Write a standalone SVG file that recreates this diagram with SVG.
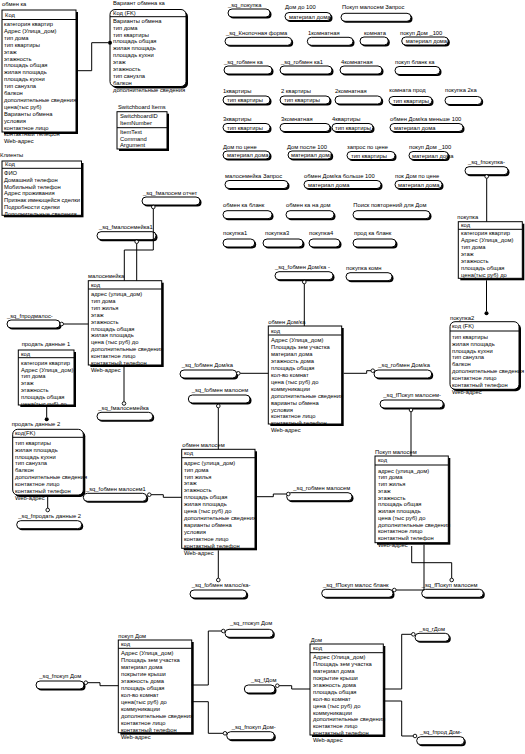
<svg xmlns="http://www.w3.org/2000/svg" width="525" height="754" viewBox="0 0 525 754">
<style>
text{font-family:"Liberation Sans",Arial,sans-serif;font-size:5.8px;fill:#000}
.bx{fill:#fff;stroke:#000;stroke-width:1}
.sh{fill:#000}
.ln{stroke:#000;stroke-width:1;fill:none}
.mk{fill:#fff;stroke:#000;stroke-width:0.9}
.dot{fill:#000}
</style>
<rect width="525" height="754" fill="#fff"/>

<!-- TABLES -->
<g id="t-obmen-ka">
<text x="2" y="6">обмен ка</text>
<rect class="sh" x="4" y="12" width="74" height="122"/>
<rect class="bx" x="2" y="10" width="74" height="122"/>
<text x="5" y="17">Код</text>
<line class="ln" x1="2" y1="19.5" x2="76" y2="19.5"/>
<text x="4" y="26"><tspan x="4">категория квартир</tspan><tspan x="4" dy="6.9">Адрес (Улица_дом)</tspan><tspan x="4" dy="6.9">тип дома</tspan><tspan x="4" dy="6.9">тип квартиры</tspan><tspan x="4" dy="6.9">этаж</tspan><tspan x="4" dy="6.9">этажность</tspan><tspan x="4" dy="6.9">площадь общая</tspan><tspan x="4" dy="6.9">жилая площадь</tspan><tspan x="4" dy="6.9">площадь кухни</tspan><tspan x="4" dy="6.9">тип санузла</tspan><tspan x="4" dy="6.9">балкон</tspan><tspan x="4" dy="6.9">дополнительные сведения</tspan><tspan x="4" dy="6.9">цена(тыс руб)</tspan><tspan x="4" dy="6.9">Варианты обмена</tspan><tspan x="4" dy="6.9">условия</tspan><tspan x="4" dy="6.9">контактное лицо</tspan><tspan x="4" dy="6.9">контактный телефон</tspan><tspan x="4" dy="6.9">Web-адрес</tspan></text>
</g>

<g id="t-variant">
<text x="113" y="5">Вариант обмена ка</text>
<rect class="sh" x="112" y="11.5" width="76" height="77" rx="5"/>
<rect class="bx" x="110" y="9.5" width="76" height="77" rx="5"/>
<text x="113" y="14.7">Код (FK)</text>
<line class="ln" x1="110" y1="16.7" x2="186" y2="16.7"/>
<text x="113" y="22.7"><tspan x="113">Варианты обмена</tspan><tspan x="113" dy="6.9">тип дома</tspan><tspan x="113" dy="6.9">тип квартиры</tspan><tspan x="113" dy="6.9">площадь общая</tspan><tspan x="113" dy="6.9">жилая площадь</tspan><tspan x="113" dy="6.9">площадь кухни</tspan><tspan x="113" dy="6.9">этаж</tspan><tspan x="113" dy="6.9">этажность</tspan><tspan x="113" dy="6.9">тип санузла</tspan><tspan x="113" dy="6.9">балкон</tspan><tspan x="113" dy="6.9">дополнительные сведения</tspan></text>
</g>

<g id="t-switchboard">
<text x="118" y="109.3">Switchboard Items</text>
<rect class="sh" x="119" y="113.7" width="50" height="37.3"/>
<rect class="bx" x="117" y="111.7" width="50" height="37.3"/>
<text x="120" y="118.3">SwitchboardID</text>
<text x="120" y="125.3">ItemNumber</text>
<line class="ln" x1="117" y1="127.7" x2="167" y2="127.7"/>
<text x="120" y="134.3"><tspan x="120">ItemText</tspan><tspan x="120" dy="6.2">Command</tspan><tspan x="120" dy="6.2">Argument</tspan></text>
</g>

<g id="t-klienty">
<text x="0" y="157">Клиенты</text>
<rect class="sh" x="4" y="163" width="79.5" height="54.3"/>
<rect class="bx" x="2" y="161" width="79.5" height="54.3"/>
<text x="5" y="166.3">Код</text>
<line class="ln" x1="2" y1="168.3" x2="81.5" y2="168.3"/>
<text x="4" y="174.7"><tspan x="4">ФИО</tspan><tspan x="4" dy="6.9">Домашний телефон</tspan><tspan x="4" dy="6.9">Мобильный телефон</tspan><tspan x="4" dy="6.9">Адрес проживания</tspan><tspan x="4" dy="6.9">Признак имеющейся сделки</tspan><tspan x="4" dy="6.9">Подробности сделки</tspan><tspan x="4" dy="6.9">Дополнительные сведения</tspan></text>
</g>

<g id="t-malosemeika">
<text x="88" y="278">малосемейка</text>
<rect class="sh" x="90.3" y="282.7" width="73.4" height="84.3"/>
<rect class="bx" x="88.3" y="280.7" width="73.4" height="84.3"/>
<text x="91" y="286.7">код</text>
<line class="ln" x1="88.3" y1="289" x2="161.7" y2="289"/>
<text x="91" y="296.3"><tspan x="91">адрес (улица_дом)</tspan><tspan x="91" dy="6.85">тип дома</tspan><tspan x="91" dy="6.85">тип жилья</tspan><tspan x="91" dy="6.85">этаж</tspan><tspan x="91" dy="6.85">этажность</tspan><tspan x="91" dy="6.85">площадь общая</tspan><tspan x="91" dy="6.85">жилая площадь</tspan><tspan x="91" dy="6.85">цена (тыс руб) до</tspan><tspan x="91" dy="6.85">дополнительные сведения</tspan><tspan x="91" dy="6.85">контактное лицо</tspan><tspan x="91" dy="6.85">контактный телефон</tspan><tspan x="91" dy="6.85">Web-адрес</tspan></text>
</g>

<g id="t-prodat1">
<text x="21.7" y="346">продать данные 1</text>
<rect class="sh" x="20.3" y="352" width="55.7" height="55"/>
<rect class="bx" x="18.3" y="350" width="55.7" height="55"/>
<text x="21" y="356">код</text>
<line class="ln" x1="18.3" y1="357.7" x2="74" y2="357.7"/>
<text x="21" y="364.7"><tspan x="21">категория квартир</tspan><tspan x="21" dy="6.8">Адрес (Улица_дом)</tspan><tspan x="21" dy="6.8">тип дома</tspan><tspan x="21" dy="6.8">этаж</tspan><tspan x="21" dy="6.8">этажность</tspan><tspan x="21" dy="6.8">площадь общая</tspan><tspan x="21" dy="6.8">цена(тыс руб) до</tspan></text>
</g>

<g id="t-prodat2">
<text x="11.7" y="426.3">продать данные 2</text>
<rect class="sh" x="14.7" y="431.3" width="70.6" height="65.7" rx="5"/>
<rect class="bx" x="12.7" y="429.3" width="70.6" height="65.7" rx="5"/>
<text x="15" y="435.3">код(FK)</text>
<line class="ln" x1="12.7" y1="437.3" x2="83.3" y2="437.3"/>
<text x="15" y="444.7"><tspan x="15">тип квартиры</tspan><tspan x="15" dy="6.9">жилая площадь</tspan><tspan x="15" dy="6.9">площадь кухни</tspan><tspan x="15" dy="6.9">тип санузла</tspan><tspan x="15" dy="6.9">балкон</tspan><tspan x="15" dy="6.9">дополнительные сведения</tspan><tspan x="15" dy="6.9">контактное лицо</tspan><tspan x="15" dy="6.9">контактный телефон</tspan><tspan x="15" dy="6.9">Web-адрес</tspan></text>
</g>

<g id="t-obmen-domka">
<text x="268.3" y="323.7">обмен Дом/ка</text>
<rect class="sh" x="270.3" y="328" width="73.4" height="98"/>
<rect class="bx" x="268.3" y="326" width="73.4" height="98"/>
<text x="271" y="332.7">код</text>
<line class="ln" x1="268.3" y1="335" x2="341.7" y2="335"/>
<text x="271" y="342"><tspan x="271">Адрес (Улица_дом)</tspan><tspan x="271" dy="6.95">Площадь зем участка</tspan><tspan x="271" dy="6.95">материал дома</tspan><tspan x="271" dy="6.95">этажность дома</tspan><tspan x="271" dy="6.95">площадь общая</tspan><tspan x="271" dy="6.95">кол-во комнат</tspan><tspan x="271" dy="6.95">цена (тыс руб) до</tspan><tspan x="271" dy="6.95">коммуникации</tspan><tspan x="271" dy="6.95">дополнительные сведения</tspan><tspan x="271" dy="6.95">варианты обмена</tspan><tspan x="271" dy="6.95">условия</tspan><tspan x="271" dy="6.95">контактное лицо</tspan><tspan x="271" dy="6.95">контактный телефон</tspan><tspan x="271" dy="6.95">Web-адрес</tspan></text>
</g>

<g id="t-pokupka">
<text x="457.3" y="218.7">покупка</text>
<rect class="sh" x="460.3" y="223.7" width="64" height="56.6"/>
<rect class="bx" x="458.3" y="221.7" width="64" height="56.6"/>
<text x="461" y="227">код</text>
<line class="ln" x1="458.3" y1="229.3" x2="522.3" y2="229.3"/>
<text x="461" y="235.3"><tspan x="461">категория квартир</tspan><tspan x="461" dy="6.95">Адрес (Улица_дом)</tspan><tspan x="461" dy="6.95">тип дома</tspan><tspan x="461" dy="6.95">этаж</tspan><tspan x="461" dy="6.95">этажность</tspan><tspan x="461" dy="6.95">площадь общая</tspan><tspan x="461" dy="6.95">цена(тыс руб) до</tspan></text>
</g>

<g id="t-pokupka2">
<text x="450" y="319.7">покупка2</text>
<rect class="sh" x="452" y="323.7" width="69" height="67.6" rx="5"/>
<rect class="bx" x="450" y="321.7" width="69" height="67.6" rx="5"/>
<text x="452" y="328">код (FK)</text>
<line class="ln" x1="450" y1="331" x2="519" y2="331"/>
<text x="452" y="338.7"><tspan x="452">тип квартиры</tspan><tspan x="452" dy="6.9">жилая площадь</tspan><tspan x="452" dy="6.9">площадь кухни</tspan><tspan x="452" dy="6.9">тип санузла</tspan><tspan x="452" dy="6.9">балкон</tspan><tspan x="452" dy="6.9">дополнительные сведения</tspan><tspan x="452" dy="6.9">контактное лицо</tspan><tspan x="452" dy="6.9">контактный телефон</tspan><tspan x="452" dy="6.9">Web-адрес</tspan></text>
</g>

<g id="t-pokup-malosem">
<text x="375" y="453.7">Покуп малосем</text>
<rect class="sh" x="377" y="458" width="73.3" height="86.7"/>
<rect class="bx" x="375" y="456" width="73.3" height="86.7"/>
<text x="378" y="462">код</text>
<line class="ln" x1="375" y1="465" x2="448.3" y2="465"/>
<text x="378" y="472.7"><tspan x="378">адрес (улица_дом)</tspan><tspan x="378" dy="6.75">тип дома</tspan><tspan x="378" dy="6.75">тип жилья</tspan><tspan x="378" dy="6.75">этаж</tspan><tspan x="378" dy="6.75">этажность</tspan><tspan x="378" dy="6.75">площадь общая</tspan><tspan x="378" dy="6.75">жилая площадь</tspan><tspan x="378" dy="6.75">цена (тыс руб) до</tspan><tspan x="378" dy="6.75">дополнительные сведения</tspan><tspan x="378" dy="6.75">контактное лицо</tspan><tspan x="378" dy="6.75">контактный телефон</tspan><tspan x="378" dy="6.75">Web-адрес</tspan></text>
</g>

<g id="t-obmen-malosem">
<text x="182.3" y="447">обмен малосем</text>
<rect class="sh" x="183.7" y="451.3" width="73.3" height="99"/>
<rect class="bx" x="181.7" y="449.3" width="73.3" height="99"/>
<text x="184" y="454.7">код</text>
<line class="ln" x1="181.7" y1="457.7" x2="255" y2="457.7"/>
<text x="184" y="464.7"><tspan x="184">адрес (улица_дом)</tspan><tspan x="184" dy="6.92">тип дома</tspan><tspan x="184" dy="6.92">тип жилья</tspan><tspan x="184" dy="6.92">этаж</tspan><tspan x="184" dy="6.92">этажность</tspan><tspan x="184" dy="6.92">площадь общая</tspan><tspan x="184" dy="6.92">жилая площадь</tspan><tspan x="184" dy="6.92">цена (тыс руб) до</tspan><tspan x="184" dy="6.92">дополнительные сведения</tspan><tspan x="184" dy="6.92">варианты обмена</tspan><tspan x="184" dy="6.92">условия</tspan><tspan x="184" dy="6.92">контактное лицо</tspan><tspan x="184" dy="6.92">контактный телефон</tspan><tspan x="184" dy="6.92">Web-адрес</tspan></text>
</g>

<g id="t-pokup-dom">
<text x="118.3" y="638">покуп Дом</text>
<rect class="sh" x="120.3" y="642" width="73.4" height="92.7"/>
<rect class="bx" x="118.3" y="640" width="73.4" height="92.7"/>
<text x="121" y="646">код</text>
<line class="ln" x1="118.3" y1="648.3" x2="191.7" y2="648.3"/>
<text x="121" y="655.3"><tspan x="121">Адрес (Улица_дом)</tspan><tspan x="121" dy="7">Площадь зем участка</tspan><tspan x="121" dy="7">материал дома</tspan><tspan x="121" dy="7">покрытие крыши</tspan><tspan x="121" dy="7">этажность дома</tspan><tspan x="121" dy="7">площадь общая</tspan><tspan x="121" dy="7">кол-во комнат</tspan><tspan x="121" dy="7">цена(тыс руб) до</tspan><tspan x="121" dy="7">коммуникации</tspan><tspan x="121" dy="7">дополнительные сведения</tspan><tspan x="121" dy="7">контактное лицо</tspan><tspan x="121" dy="7">контактный телефон</tspan><tspan x="121" dy="7">Web-адрес</tspan></text>
</g>

<g id="t-dom">
<text x="310.7" y="642">Дом</text>
<rect class="sh" x="312" y="646" width="73.3" height="91"/>
<rect class="bx" x="310" y="644" width="73.3" height="91"/>
<text x="313" y="650.3">код</text>
<line class="ln" x1="310" y1="652.7" x2="383.3" y2="652.7"/>
<text x="313" y="659.3"><tspan x="313">Адрес (Улица_дом)</tspan><tspan x="313" dy="6.9">Площадь зем участка</tspan><tspan x="313" dy="6.9">материал дома</tspan><tspan x="313" dy="6.9">покрытие крыши</tspan><tspan x="313" dy="6.9">этажность дома</tspan><tspan x="313" dy="6.9">площадь общая</tspan><tspan x="313" dy="6.9">кол-во комнат</tspan><tspan x="313" dy="6.9">цена (тыс руб) до</tspan><tspan x="313" dy="6.9">коммуникации</tspan><tspan x="313" dy="6.9">дополнительные сведения</tspan><tspan x="313" dy="6.9">контактное лицо</tspan><tspan x="313" dy="6.9">контактный телефон</tspan><tspan x="313" dy="6.9">Web-адрес</tspan></text>
</g>

<!-- QUERIES -->
<g id="q1"><text x="228" y="6.7">_sq_покупка</text><rect class="sh" x="229.5" y="10.5" width="42" height="8" rx="4"/><rect class="bx" x="228" y="9" width="42" height="8" rx="4"/></g>
<g id="q2"><text x="285" y="8.7">Дом до 100</text><rect class="sh" x="286.5" y="14" width="46" height="8" rx="4"/><rect class="bx" x="285" y="12.5" width="46" height="8" rx="4"/><text x="289" y="18.5">материал дома</text></g>
<g id="q3"><text x="342" y="9.3">Покуп малосем Запрос</text><rect class="sh" x="342.5" y="14.8" width="70" height="8" rx="4"/><rect class="bx" x="341" y="13.3" width="70" height="8" rx="4"/></g>
<g id="q4"><text x="226" y="34.7">_sq_Кнопочная форма</text><rect class="sh" x="226.5" y="38.8" width="66.7" height="8" rx="4"/><rect class="bx" x="225" y="37.3" width="66.7" height="8" rx="4"/></g>
<g id="q5"><text x="308" y="34.7">1комнатная</text><rect class="sh" x="308.8" y="38.8" width="45.7" height="8" rx="4"/><rect class="bx" x="307.3" y="37.3" width="45.7" height="8" rx="4"/></g>
<g id="q6"><text x="364" y="35.3">комната</text><rect class="sh" x="361.5" y="38.5" width="28.3" height="8" rx="4"/><rect class="bx" x="360" y="37" width="28.3" height="8" rx="4"/></g>
<g id="q7"><text x="400" y="35.3">покуп Дом _100</text><rect class="sh" x="403.2" y="38.5" width="46.6" height="8" rx="4"/><rect class="bx" x="401.7" y="37" width="46.6" height="8" rx="4"/><text x="405.7" y="43">материал дома</text></g>
<g id="q8"><text x="224" y="63.7">_sq_rобмен ка</text><rect class="sh" x="225.5" y="67.5" width="48" height="8" rx="4"/><rect class="bx" x="224" y="66" width="48" height="8" rx="4"/></g>
<g id="q9"><text x="281" y="63.7">_sq_rобмен ка1</text><rect class="sh" x="281.5" y="67.5" width="52" height="8" rx="4"/><rect class="bx" x="280" y="66" width="52" height="8" rx="4"/></g>
<g id="q10"><text x="341" y="63.7">4комнатная</text><rect class="sh" x="341.5" y="67.5" width="42" height="8" rx="4"/><rect class="bx" x="340" y="66" width="42" height="8" rx="4"/></g>
<g id="q11"><text x="395" y="63.7">покуп бланк ка</text><rect class="sh" x="396.5" y="68" width="45" height="8" rx="4"/><rect class="bx" x="395" y="66.5" width="45" height="8" rx="4"/></g>
<g id="q12"><text x="223" y="92.7">1квартиры</text><rect class="sh" x="224.5" y="97.5" width="47" height="8" rx="4"/><rect class="bx" x="223" y="96" width="47" height="8" rx="4"/><text x="227" y="102">тип квартиры</text></g>
<g id="q13"><text x="281" y="92.7">2 квартиры</text><rect class="sh" x="281.5" y="97.5" width="50" height="8" rx="4"/><rect class="bx" x="280" y="96" width="50" height="8" rx="4"/><text x="284" y="102">тип квартиры</text></g>
<g id="q14"><text x="335" y="92.7">2комнатная</text><rect class="sh" x="336.5" y="97.5" width="46.7" height="8" rx="4"/><rect class="bx" x="335" y="96" width="46.7" height="8" rx="4"/></g>
<g id="q15"><text x="389.3" y="92.3">комната прод</text><rect class="sh" x="390.5" y="98" width="43" height="8" rx="4"/><rect class="bx" x="389" y="96.5" width="43" height="8" rx="4"/><text x="393" y="102.5">тип квартиры</text></g>
<g id="q16"><text x="445" y="92.3">покупка 2ка</text><rect class="sh" x="446.5" y="98" width="36.7" height="8" rx="4"/><rect class="bx" x="445" y="96.5" width="36.7" height="8" rx="4"/></g>
<g id="q17"><text x="223" y="121.3">3квартиры</text><rect class="sh" x="224.5" y="125" width="47" height="8" rx="4"/><rect class="bx" x="223" y="123.5" width="47" height="8" rx="4"/><text x="227" y="129.5">тип квартиры</text></g>
<g id="q18"><text x="281" y="121.3">3комнатная</text><rect class="sh" x="281.5" y="125" width="50" height="8" rx="4"/><rect class="bx" x="280" y="123.5" width="50" height="8" rx="4"/></g>
<g id="q19"><text x="332" y="121.3">4квартиры</text><rect class="sh" x="333.5" y="125" width="41" height="8" rx="4"/><rect class="bx" x="332" y="123.5" width="41" height="8" rx="4"/><text x="335" y="129.5">тип квартиры</text></g>
<g id="q20"><text x="390" y="121">обмен Дом/ка меньше 100</text><rect class="sh" x="391.5" y="125" width="73" height="8" rx="4"/><rect class="bx" x="390" y="123.5" width="73" height="8" rx="4"/><text x="394" y="129.5">материал дома</text></g>
<g id="q21"><text x="223" y="148.7">Дом по цене</text><rect class="sh" x="224.5" y="152.5" width="47" height="8" rx="4"/><rect class="bx" x="223" y="151" width="47" height="8" rx="4"/><text x="227" y="157">материал дома</text></g>
<g id="q22"><text x="287" y="148.7">Дом после 100</text><rect class="sh" x="289.5" y="152.5" width="43.7" height="8" rx="4"/><rect class="bx" x="288" y="151" width="43.7" height="8" rx="4"/><text x="291" y="157">материал дома</text></g>
<g id="q23"><text x="347" y="148.7">запрос по цене</text><rect class="sh" x="348.5" y="153" width="48" height="8" rx="4"/><rect class="bx" x="347" y="151.5" width="48" height="8" rx="4"/><text x="351" y="157.5">тип квартиры</text></g>
<g id="q24"><text x="409" y="148.7">покуп Дом _100</text><rect class="sh" x="410.5" y="153" width="39.3" height="8" rx="4"/><rect class="bx" x="409" y="151.5" width="39.3" height="8" rx="4"/><text x="412" y="157.5">материал дома</text></g>
<g id="q25"><text x="225" y="178">малосемейка Запрос</text><rect class="sh" x="226.5" y="182" width="63" height="8" rx="4"/><rect class="bx" x="225" y="180.5" width="63" height="8" rx="4"/></g>
<g id="q26"><text x="304" y="178">обмен Дом/ка больше 100</text><rect class="sh" x="305.5" y="182" width="77" height="8" rx="4"/><rect class="bx" x="304" y="180.5" width="77" height="8" rx="4"/><text x="308" y="186.5">материал дома</text></g>
<g id="q27"><text x="395" y="177.7">пок Дом по цене</text><rect class="sh" x="396.5" y="182" width="47" height="8" rx="4"/><rect class="bx" x="395" y="180.5" width="47" height="8" rx="4"/><text x="398" y="186.5">материал дома</text></g>
<g id="q28"><text x="468" y="163.7">_sq_fпокупка-</text><rect class="sh" x="466.5" y="168.2" width="43" height="8" rx="4"/><rect class="bx" x="465" y="166.7" width="43" height="8" rx="4"/></g>
<g id="q29"><text x="223" y="207">обмен ка бланк</text><rect class="sh" x="224.5" y="212.2" width="49" height="8" rx="4"/><rect class="bx" x="223" y="210.7" width="49" height="8" rx="4"/></g>
<g id="q30"><text x="286" y="207">обмен ка на дом</text><rect class="sh" x="287.5" y="212.2" width="48" height="8" rx="4"/><rect class="bx" x="286" y="210.7" width="48" height="8" rx="4"/></g>
<g id="q31"><text x="353.3" y="207">Поиск повторений для Дом</text><rect class="sh" x="354.5" y="212.2" width="77" height="8" rx="4"/><rect class="bx" x="353" y="210.7" width="77" height="8" rx="4"/></g>
<g id="q32"><text x="223" y="235.3">покупка1</text><rect class="sh" x="224.5" y="240.5" width="31.7" height="8" rx="4"/><rect class="bx" x="223" y="239" width="31.7" height="8" rx="4"/></g>
<g id="q33"><text x="265" y="235.3">покупка3</text><rect class="sh" x="264.5" y="240.5" width="40" height="8" rx="4"/><rect class="bx" x="263" y="239" width="40" height="8" rx="4"/></g>
<g id="q34"><text x="309" y="235.3">покупка4</text><rect class="sh" x="310.5" y="240.5" width="31" height="8" rx="4"/><rect class="bx" x="309" y="239" width="31" height="8" rx="4"/></g>
<g id="q35"><text x="354" y="235.3">прод ка бланк</text><rect class="sh" x="354.5" y="240.5" width="43" height="8" rx="4"/><rect class="bx" x="353" y="239" width="43" height="8" rx="4"/></g>
<g id="q36"><text x="275" y="269.3">_sq_fобмен Дом/ка -</text><rect class="sh" x="276.5" y="273.2" width="58" height="8" rx="4"/><rect class="bx" x="275" y="271.7" width="58" height="8" rx="4"/></g>
<g id="q37"><text x="346" y="270.3">покупка комн</text><rect class="sh" x="347.5" y="274.2" width="46" height="8" rx="4"/><rect class="bx" x="346" y="272.7" width="46" height="8" rx="4"/></g>
<g id="q38"><text x="143" y="194.7">_sq_fмалосем отчет</text><rect class="sh" x="143.5" y="198.5" width="58" height="8" rx="4"/><rect class="bx" x="142" y="197" width="58" height="8" rx="4"/></g>
<g id="q39"><text x="99" y="229.3">_sq_fмалосемейка1</text><rect class="sh" x="98.5" y="233.2" width="59" height="8" rx="4"/><rect class="bx" x="97" y="231.7" width="59" height="8" rx="4"/></g>
<g id="q40"><text x="7" y="317.7">_sq_fпродмалос-</text><rect class="sh" x="8.5" y="321.5" width="53" height="8" rx="4"/><rect class="bx" x="7" y="320" width="53" height="8" rx="4"/></g>
<g id="q41"><text x="98.3" y="410.3">_sq_fмалосемейка</text><rect class="sh" x="98.5" y="413.8" width="55.7" height="8" rx="4"/><rect class="bx" x="97" y="412.3" width="55.7" height="8" rx="4"/></g>
<g id="q42"><text x="18.3" y="518">_sq_fпродать данные 2</text><rect class="sh" x="18.2" y="522.2" width="65" height="8" rx="4"/><rect class="bx" x="16.7" y="520.7" width="65" height="8" rx="4"/></g>
<g id="q43"><text x="86" y="491.3">_sq_fобмен малосем1</text><rect class="sh" x="84.8" y="494.8" width="63.4" height="8" rx="4"/><rect class="bx" x="83.3" y="493.3" width="63.4" height="8" rx="4"/></g>
<g id="q44"><text x="191.7" y="392">_sq_fобмен малосем</text><rect class="sh" x="189.8" y="396.5" width="61.7" height="8" rx="4"/><rect class="bx" x="188.3" y="395" width="61.7" height="8" rx="4"/></g>
<g id="q45"><text x="293.3" y="490.3">_sq_rобмен малосем</text><rect class="sh" x="288.2" y="494.2" width="65.3" height="8" rx="4"/><rect class="bx" x="286.7" y="492.7" width="65.3" height="8" rx="4"/></g>
<g id="q46"><text x="181.7" y="367">_sq_fобмен Дом/ка</text><rect class="sh" x="181.5" y="371.5" width="56.7" height="8" rx="4"/><rect class="bx" x="180" y="370" width="56.7" height="8" rx="4"/></g>
<g id="q47"><text x="378.3" y="367">_sq_rобмен Дом/ка</text><rect class="sh" x="375.5" y="371.5" width="57.7" height="8" rx="4"/><rect class="bx" x="374" y="370" width="57.7" height="8" rx="4"/></g>
<g id="q48"><text x="383.3" y="397">_sq_fПокуп малосем-</text><rect class="sh" x="381.5" y="401.5" width="63.3" height="8" rx="4"/><rect class="bx" x="380" y="400" width="63.3" height="8" rx="4"/></g>
<g id="q49"><text x="323" y="587">_sq_fПокуп малос бланк</text><rect class="sh" x="323.2" y="590.8" width="71.3" height="8" rx="4"/><rect class="bx" x="321.7" y="589.3" width="71.3" height="8" rx="4"/></g>
<g id="q50"><text x="421.7" y="587">_sq_fПокуп малосем</text><rect class="sh" x="423.2" y="590.8" width="61.6" height="8" rx="4"/><rect class="bx" x="421.7" y="589.3" width="61.6" height="8" rx="4"/></g>
<g id="q51"><text x="191.7" y="587">_sq_fобмен малос/ка-</text><rect class="sh" x="191.5" y="591.5" width="56.7" height="8" rx="4"/><rect class="bx" x="190" y="590" width="56.7" height="8" rx="4"/></g>
<g id="q52"><text x="39.3" y="678">_sq_fпокуп Дом</text><rect class="sh" x="37.5" y="682.5" width="48" height="8" rx="4"/><rect class="bx" x="36" y="681" width="48" height="8" rx="4"/></g>
<g id="q53"><text x="230" y="625.3">_sq_rпокуп Дом</text><rect class="sh" x="226.5" y="630.8" width="48.3" height="8" rx="4"/><rect class="bx" x="225" y="629.3" width="48.3" height="8" rx="4"/></g>
<g id="q54"><text x="231.7" y="728.7">_sq_fпокуп Дом-</text><rect class="sh" x="228.2" y="733.2" width="47.6" height="8" rx="4"/><rect class="bx" x="226.7" y="731.7" width="47.6" height="8" rx="4"/></g>
<g id="q55"><text x="251" y="682">_sq_fДом</text><rect class="sh" x="245.8" y="686.5" width="30.7" height="8" rx="4"/><rect class="bx" x="244.3" y="685" width="30.7" height="8" rx="4"/></g>
<g id="q56"><text x="419.3" y="631">_sq_rДом</text><rect class="sh" x="416.5" y="634.8" width="34.3" height="8" rx="4"/><rect class="bx" x="415" y="633.3" width="34.3" height="8" rx="4"/></g>
<g id="q57"><text x="420" y="733.7">_sq_fпрод Дом-</text><rect class="sh" x="418.2" y="738.2" width="47.6" height="8" rx="4"/><rect class="bx" x="416.7" y="736.7" width="47.6" height="8" rx="4"/></g>

<!-- CONNECTORS -->
<g id="connectors">
<path class="ln" d="M76,70.7 H91.7 V42.7 H108"/>
<circle class="dot" cx="110" cy="42.7" r="2"/>
<path class="ln" d="M153.3,208.8 V250 H124.3 V280.7"/>
<circle class="mk" cx="153.3" cy="207" r="1.8"/>
<path class="ln" d="M136.7,243.5 V280.7"/>
<circle class="mk" cx="136.7" cy="241.7" r="1.8"/>
<path class="ln" d="M63.5,324 H88.3"/>
<circle class="mk" cx="61.7" cy="324" r="1.8"/>
<path class="ln" d="M124,367 V401.7"/>
<circle class="mk" cx="124" cy="403.5" r="1.8"/>
<path class="ln" d="M46.7,407 V417.3"/>
<circle class="dot" cx="46.7" cy="419.3" r="2"/>
<path class="ln" d="M47.7,497 V508.2"/>
<circle class="mk" cx="47.7" cy="510" r="1.8"/>
<path class="ln" d="M151.1,494.7 H163.3 V497.3 H181.7"/>
<circle class="mk" cx="149.3" cy="494.7" r="1.8"/>
<path class="ln" d="M218.3,407.8 V449.3"/>
<circle class="mk" cx="218.3" cy="406" r="1.8"/>
<path class="ln" d="M257,496.7 H273.3 V494 H286.5"/>
<circle class="mk" cx="288.3" cy="494" r="1.8"/>
<path class="ln" d="M218.3,550.3 V578.2"/>
<circle class="mk" cx="218.3" cy="580" r="1.8"/>
<path class="ln" d="M304.3,283.8 V326"/>
<circle class="mk" cx="304.3" cy="282" r="1.8"/>
<path class="ln" d="M240.1,373.3 H268.3"/>
<circle class="mk" cx="238.3" cy="373.3" r="1.8"/>
<path class="ln" d="M343.7,373.3 H366.7 V370.7 H371"/>
<circle class="mk" cx="372.8" cy="370.7" r="1.8"/>
<path class="ln" d="M486.7,178.3 V221.7"/>
<circle class="mk" cx="486.7" cy="176.5" r="1.8"/>
<path class="ln" d="M486.5,280.3 V311.3"/>
<circle class="dot" cx="486.5" cy="313.3" r="2"/>
<path class="ln" d="M411,411.8 V456"/>
<circle class="mk" cx="411" cy="410" r="1.8"/>
<path class="ln" d="M424,544.7 V590 H396.1"/>
<circle class="mk" cx="394.3" cy="590" r="1.8"/>
<path class="ln" d="M411.7,546 V562.7 H451.7 V578.2"/>
<circle class="mk" cx="451.7" cy="580" r="1.8"/>
<path class="ln" d="M87.6,682.7 H100 V685.7 H118.3"/>
<circle class="mk" cx="85.8" cy="682.7" r="1.8"/>
<path class="ln" d="M191.7,685 H208.3 V631 H221.5"/>
<circle class="mk" cx="223.3" cy="631" r="1.8"/>
<path class="ln" d="M191.7,701.7 H208.3 V733.3 H223.2"/>
<circle class="mk" cx="225" cy="733.3" r="1.8"/>
<path class="ln" d="M279.1,685.7 H291.7 V689 H310"/>
<circle class="mk" cx="277.3" cy="685.7" r="1.8"/>
<path class="ln" d="M383.3,689 H401.7 V634.3 H411.5"/>
<circle class="mk" cx="413.3" cy="634.3" r="1.8"/>
<path class="ln" d="M383.3,701 H401.7 V736 H413.2"/>
<circle class="mk" cx="415" cy="736" r="1.8"/>
</g>
</svg>
